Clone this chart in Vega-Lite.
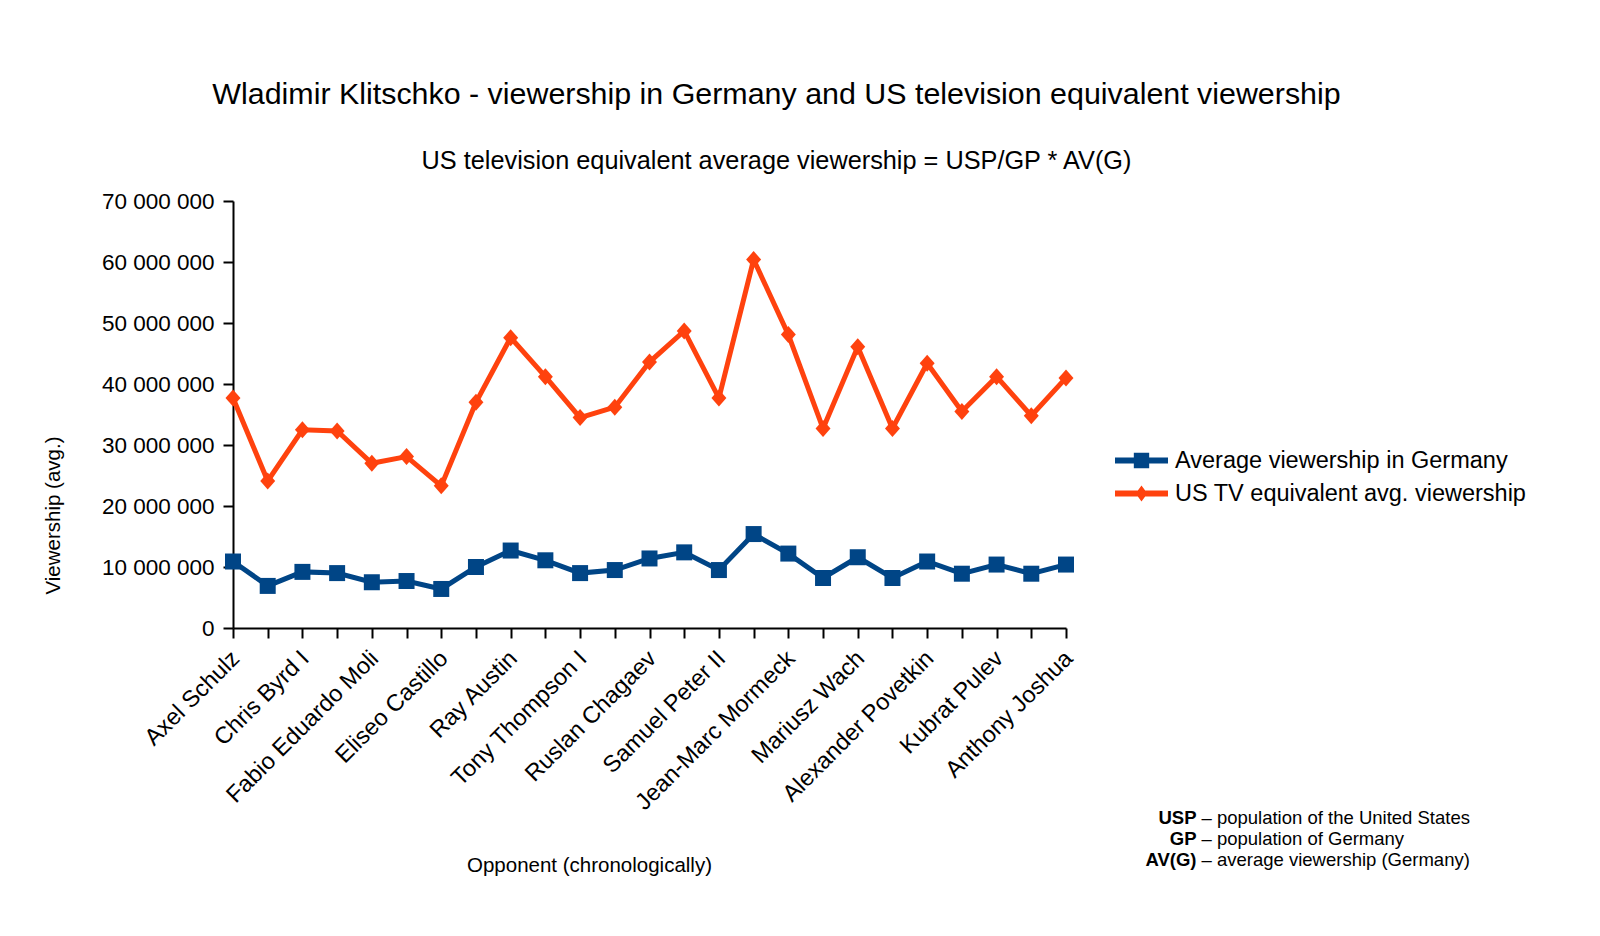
{
  "$schema": "https://vega.github.io/schema/vega-lite/v6.json",
  "description": "Wladimir Klitschko - viewership in Germany and US television equivalent viewership",
  "autosize": {"type": "none"},
  "width": 833,
  "height": 427,
  "padding": {"left": 233, "top": 201, "right": 534, "bottom": 308},
  "background": "white",
  "title": {
    "text": "Wladimir Klitschko - viewership in Germany and US television equivalent viewership",
    "subtitle": "US television equivalent average viewership = USP/GP * AV(G)",
    "anchor": "middle",
    "frame": "group",
    "dx": 127,
    "offset": 16,
    "fontSize": 30.4,
    "fontWeight": "normal",
    "subtitleFontSize": 25.3,
    "subtitlePadding": 38,
    "color": "black",
    "subtitleColor": "black"
  },
  "datasets": {
    "fights": [
      {"fight": 1, "opponent": "Axel Schulz", "germany": 10900000, "us": 37700000},
      {"fight": 2, "opponent": "Monte Barrett", "germany": 6900000, "us": 24100000},
      {"fight": 3, "opponent": "Chris Byrd I", "germany": 9200000, "us": 32500000},
      {"fight": 4, "opponent": "Derrick Jefferson", "germany": 9000000, "us": 32300000},
      {"fight": 5, "opponent": "Fabio Eduardo Moli", "germany": 7500000, "us": 27000000},
      {"fight": 6, "opponent": "Lamon Brewster I", "germany": 7700000, "us": 28100000},
      {"fight": 7, "opponent": "Eliseo Castillo", "germany": 6400000, "us": 23300000},
      {"fight": 8, "opponent": "Chris Byrd II", "germany": 10000000, "us": 37000000},
      {"fight": 9, "opponent": "Ray Austin", "germany": 12700000, "us": 47600000},
      {"fight": 10, "opponent": "Sultan Ibragimov", "germany": 11100000, "us": 41200000},
      {"fight": 11, "opponent": "Tony Thompson I", "germany": 9000000, "us": 34500000},
      {"fight": 12, "opponent": "Hasim Rahman", "germany": 9500000, "us": 36200000},
      {"fight": 13, "opponent": "Ruslan Chagaev", "germany": 11400000, "us": 43600000},
      {"fight": 14, "opponent": "Eddie Chambers", "germany": 12400000, "us": 48700000},
      {"fight": 15, "opponent": "Samuel Peter II", "germany": 9500000, "us": 37700000},
      {"fight": 16, "opponent": "David Haye", "germany": 15400000, "us": 60400000},
      {"fight": 17, "opponent": "Jean-Marc Mormeck", "germany": 12200000, "us": 48100000},
      {"fight": 18, "opponent": "Tony Thompson II", "germany": 8200000, "us": 32700000},
      {"fight": 19, "opponent": "Mariusz Wach", "germany": 11600000, "us": 46100000},
      {"fight": 20, "opponent": "Francesco Pianeta", "germany": 8200000, "us": 32700000},
      {"fight": 21, "opponent": "Alexander Povetkin", "germany": 10900000, "us": 43400000},
      {"fight": 22, "opponent": "Alex Leapai", "germany": 8900000, "us": 35500000},
      {"fight": 23, "opponent": "Kubrat Pulev", "germany": 10400000, "us": 41200000},
      {"fight": 24, "opponent": "Tyson Fury", "germany": 8900000, "us": 34800000},
      {"fight": 25, "opponent": "Anthony Joshua", "germany": 10400000, "us": 41000000}
    ],
    "notes": [
      {"line": 1, "term": "USP", "note": "population of the United States"},
      {"line": 2, "term": "GP", "note": "population of Germany"},
      {"line": 3, "term": "AV(G)", "note": "average viewership (Germany)"}
    ]
  },
  "layer": [
    {
      "data": {"name": "fights"},
      "transform": [
        {"fold": ["germany", "us"], "as": ["series", "viewers"]}
      ],
      "encoding": {
        "x": {
          "field": "opponent",
          "type": "nominal",
          "sort": {"field": "fight", "op": "min"},
          "scale": {"type": "point", "padding": 0},
          "title": "Opponent (chronologically)",
          "axis": {
            "labelAngle": -45,
            "labelExpr": "round(datum.index * 24) % 2 == 0 ? datum.label : ''",
            "labelFontSize": 23.5,
            "labelPadding": 8,
            "labelOffset": -6,
            "labelLimit": 400,
            "titleFontSize": 20.5,
            "titleFontWeight": "normal",
            "titleX": 356,
            "titleY": 237,
            "titleBaseline": "middle",
            "titleAlign": "center"
          }
        },
        "y": {
          "field": "viewers",
          "type": "quantitative",
          "scale": {"domain": [0, 70000000], "nice": false},
          "title": "Viewership (avg.)",
          "axis": {
            "values": [0, 10000000, 20000000, 30000000, 40000000, 50000000, 60000000, 70000000],
            "labelExpr": "datum.value == 0 ? '0' : format(datum.value / 1000000, 'd') + ' 000 000'",
            "labelFontSize": 22.5,
            "labelPadding": 9,
            "titleFontSize": 20.5,
            "titleFontWeight": "normal",
            "titleX": -180,
            "titleY": 314,
            "titleBaseline": "middle",
            "titleAlign": "center",
            "grid": false
          }
        },
        "color": {
          "field": "series",
          "type": "nominal",
          "scale": {"range": ["#004586", "#ff420e"]},
          "legend": {
            "title": null,
            "orient": "none",
            "legendX": 882,
            "legendY": 243,
            "labelExpr": "datum.value == 'germany' ? 'Average viewership in Germany' : 'US TV equivalent avg. viewership'",
            "labelFontSize": 23.5,
            "labelColor": "black",
            "labelOffset": 7,
            "labelLimit": 500,
            "symbolSize": 2809,
            "symbolStrokeWidth": 0,
            "clipHeight": 33,
            "rowPadding": 0,
            "encode": {
              "symbols": {
                "update": {
                  "fill": {"scale": "color", "field": "value"},
                  "opacity": {"value": 1},
                  "shape": {"signal": "datum.value == 'germany' ? 'M-1,-0.11H1V0.11H-1Z M-0.29,-0.29H0.29V0.29H-0.29Z' : 'M-1,-0.11H1V0.11H-1Z M0,-0.3L0.22,0L0,0.3L-0.22,0Z'"}
                }
              }
            }
          }
        }
      },
      "layer": [
        {"mark": {"type": "line", "strokeWidth": 5}},
        {
          "transform": [{"filter": "datum.series == 'germany'"}],
          "mark": {"type": "point", "shape": "square", "filled": true, "opacity": 1, "size": 256}
        },
        {
          "transform": [{"filter": "datum.series == 'us'"}],
          "mark": {"type": "point", "shape": "M0,-1L0.88,0L0,1L-0.88,0Z", "filled": true, "opacity": 1, "size": 289}
        }
      ]
    },
    {
      "data": {"name": "notes"},
      "mark": {"type": "point", "opacity": 0},
      "encoding": {
        "shape": {
          "field": "term",
          "type": "nominal",
          "sort": {"field": "line", "op": "min"},
          "legend": {
            "title": null,
            "orient": "none",
            "legendX": 945,
            "legendY": 608,
            "labelAlign": "right",
            "labelFontSize": 18.5,
            "labelFontWeight": "bold",
            "labelColor": "black",
            "labelOffset": 0,
            "symbolSize": 0,
            "symbolOpacity": 0,
            "symbolStrokeWidth": 0,
            "rowPadding": 2
          }
        },
        "strokeDash": {
          "field": "note",
          "type": "nominal",
          "sort": {"field": "line", "op": "min"},
          "legend": {
            "title": null,
            "orient": "none",
            "legendX": 950,
            "legendY": 608,
            "labelExpr": "'– ' + datum.label",
            "labelFontSize": 18.5,
            "labelColor": "black",
            "labelOffset": 0,
            "labelLimit": 400,
            "symbolSize": 0,
            "symbolOpacity": 0,
            "symbolStrokeWidth": 0,
            "rowPadding": 2
          }
        }
      }
    }
  ],
  "config": {
    "font": "Liberation Sans",
    "view": {"stroke": null},
    "axis": {
      "domainColor": "black",
      "domainWidth": 2,
      "tickColor": "black",
      "tickWidth": 2,
      "tickSize": 10,
      "labelColor": "black",
      "titleColor": "black"
    },
    "legend": {"padding": 0}
  }
}
